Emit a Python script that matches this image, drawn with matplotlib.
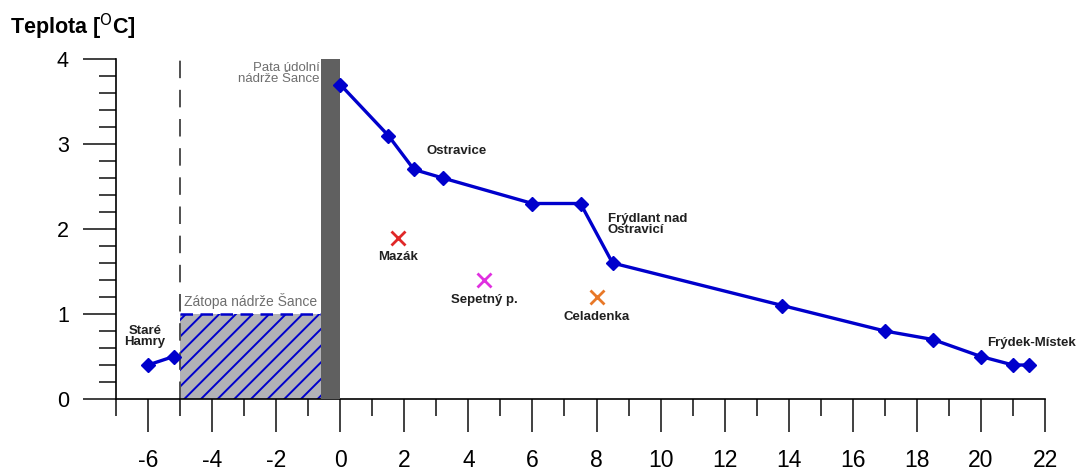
import matplotlib

matplotlib.use("Agg")
import matplotlib.pyplot as plt

# Ostravice water temperature along the river (km vs deg C)
upper_km = [-6, -5.2]
upper_temp = [0.4, 0.5]
main_km = [0, 1.5, 2.3, 3.2, 6, 7.5, 8.5, 13.8, 17, 18.5, 20, 21, 21.5]
main_temp = [3.7, 3.1, 2.7, 2.6, 2.3, 2.3, 1.6, 1.1, 0.8, 0.7, 0.5, 0.4, 0.4]

trib_names = ["Mazák", "Sepetný p.", "Celadenka"]
trib_km = [1.8, 4.5, 8.0]
trib_temp = [1.9, 1.4, 1.2]
trib_colors = ["#e02828", "#e030e0", "#e87828"]

reservoir_km = (-5, -0.6)
reservoir_level = 1.0
dam_km = (-0.6, 0)
dam_height = 4.0

BLUE = "#0000cc"
GREY_TXT = "#6e6e6e"

plt.rcParams["font.family"] = ["Liberation Sans", "DejaVu Sans"]
plt.rcParams["axes.unicode_minus"] = False
plt.rcParams["hatch.linewidth"] = 1.4
plt.rcParams["hatch.color"] = BLUE

fig = plt.figure(figsize=(10.76, 4.74), dpi=100)
ax = fig.add_axes([116 / 1076, 1 - 399 / 474, 929 / 1076, 340 / 474])

# reservoir (hatched) and dam
ax.fill_between(reservoir_km, 0, reservoir_level, facecolor="#b2b2b6",
                edgecolor=BLUE, hatch="//", linewidth=0, zorder=1)
ax.plot(reservoir_km, [reservoir_level] * 2, color=BLUE, lw=1.8,
        ls=(0, (5, 3)), zorder=2)
ax.bar(dam_km[0], dam_height, width=dam_km[1] - dam_km[0], align="edge",
       color="#606060", zorder=3)
ax.plot([reservoir_km[0]] * 2, [0, 4.1], color="#505050", lw=1.4,
        ls=(0, (9, 6)), clip_on=False, zorder=2)

# temperature profile
for xs, ys in ((upper_km, upper_temp), (main_km, main_temp)):
    ax.plot(xs, ys, color=BLUE, lw=2.4, marker="D", markersize=7, zorder=5,
            clip_on=False)

for name, x, y, c in zip(trib_names, trib_km, trib_temp, trib_colors):
    ax.plot(x, y, marker="x", color=c, markersize=10, mew=2, ls="none", zorder=5)
    ax.annotate(name, (x, y), xytext=(0, -10), textcoords="offset points",
                ha="center", va="top", fontsize=9.5, fontweight="bold",
                color="#202020")

lbl = dict(fontsize=9.5, fontweight="bold", color="#202020")
ax.text(-6.1, 0.6, "Staré\nHamry", ha="center", va="bottom",
        linespacing=0.9, **lbl)
ax.text(2.7, 2.92, "Ostravice", ha="left", va="center", **lbl)
ax.text(8.35, 2.05, "Frýdlant nad\nOstravicí", ha="left", va="center",
        linespacing=0.9, **lbl)
ax.text(20.2, 0.66, "Frýdek-Místek", ha="left", va="center", **lbl)
ax.text(-0.65, 3.96, "Pata údolní\nnádrže Šance", ha="right", va="top",
        fontsize=9.5, color=GREY_TXT, linespacing=0.85)
ax.text(-2.8, 1.06, "Zátopa nádrže Šance", ha="center", va="bottom",
        fontsize=10, color=GREY_TXT)

ax.set_xlim(-7, 22)
ax.set_ylim(0, 4)
ax.set_xticks(range(-6, 23, 2))
ax.set_xticks(range(-7, 23, 2), minor=True)
ax.set_yticks(range(0, 5))
ax.set_yticks([i / 5 for i in range(21)], minor=True)
ax.tick_params(axis="both", which="major", direction="out", length=24,
               width=1.2, color="#202020")
ax.tick_params(axis="both", which="minor", direction="out", length=12,
               width=1.2, color="#202020")
ax.tick_params(axis="x", which="major", labelsize=16.5, pad=12)
ax.tick_params(axis="y", which="major", labelsize=15.5, pad=10)

for side in ("top", "right"):
    ax.spines[side].set_visible(False)
for side in ("left", "bottom"):
    ax.spines[side].set_linewidth(1.2)

fig.text(10 / 1076, 1 - 27 / 474, "Teplota [$^{\\mathrm{O}}$C]", ha="left",
         va="center", fontsize=15.5, fontweight="bold")

fig.savefig("out.png", dpi=100, facecolor="white")
